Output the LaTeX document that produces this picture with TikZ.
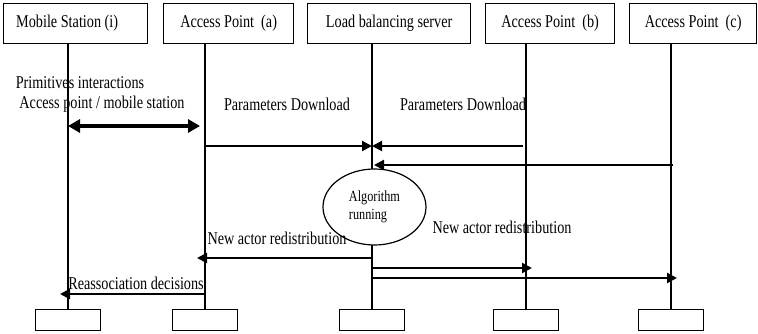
\documentclass[tikz,border=0pt]{standalone}
\usepackage{fontspec}
\setmainfont{Liberation Serif}[FakeStretch=0.79]
\usetikzlibrary{arrows.meta,shapes.geometric}
\begin{document}
\begin{tikzpicture}[x=1pt,y=-1pt,
  every node/.style={font=\fontsize{18}{21}\selectfont},
  hdr/.style={draw, line width=1.3pt, minimum height=40pt, inner sep=0pt, anchor=north west},
  foot/.style={draw, line width=1.3pt, minimum width=65pt, minimum height=21pt, inner sep=0pt, anchor=north},
  life/.style={line width=1.2pt},
  msg/.style={line width=2.2pt, -{Triangle[length=10pt,width=10pt]}},
  bimsg/.style={line width=4.5pt, {Triangle[length=12pt,width=13pt]}-{Triangle[length=12pt,width=13pt]}},
  lbl/.style={inner sep=0pt},
  algo/.style={draw, ellipse, fill=white, line width=1.2pt, minimum width=103pt, minimum height=76pt, inner sep=0pt, align=left, font=\fontsize{15.5}{18}\selectfont}]
\useasboundingbox (0,0) rectangle (758,334);
% headers
\node[hdr, minimum width=144pt] (ms) at (3,3) {Mobile Station (i)\hspace*{17pt}\mbox{}};
\node[hdr, minimum width=130pt] (apa) at (163,3) {Access Point\ \ (a)};
\node[hdr, minimum width=163pt] (lbs) at (307,3) {Load balancing server};
\node[hdr, minimum width=129pt] (apb) at (485,3) {Access Point\ \ (b)};
\node[hdr, minimum width=127pt] (apc) at (629,3) {Access Point\ \ (c)};
% footers
\node[foot] (fms) at (68,309) {};
\node[foot] (fapa) at (205,309) {};
\node[foot] (flbs) at (372,309) {};
\node[foot] (fapb) at (526,309) {};
\node[foot] (fapc) at (671,309) {};
% lifelines
\draw[life] (fms.north) -- (fms.north |- ms.south);
\draw[life] (fapa.north) -- (fapa.north |- apa.south);
\draw[life] (flbs.north) -- (flbs.north |- lbs.south);
\draw[life] (fapb.north) -- (fapb.north |- apb.south);
\draw[life] (fapc.north) -- (fapc.north |- apc.south);
% message end points
\coordinate (p1a) at (68,126);  \coordinate (p1b) at (200,126);
\coordinate (p2a) at (205,146); \coordinate (p2b) at (372,146);
\coordinate (p3a) at (523,146); \coordinate (p3b) at (372,146);
\coordinate (p4a) at (673,165); \coordinate (p4b) at (374,165);
\coordinate (p5a) at (372,258); \coordinate (p5b) at (197,258);
\coordinate (p6a) at (372,268); \coordinate (p6b) at (532,268);
\coordinate (p7a) at (372,278); \coordinate (p7b) at (677,278);
\coordinate (p8a) at (205,294); \coordinate (p8b) at (60,294);
% messages
\draw[bimsg] (p1a) -- (p1b);
\draw[msg] (p2a) -- (p2b);
\draw[msg] (p3a) -- (p3b);
\draw[msg] (p4a) -- (p4b);
\draw[msg] (p5a) -- (p5b);
\draw[msg] (p6a) -- (p6b);
\draw[msg] (p7a) -- (p7b);
\draw[msg] (p8a) -- (p8b);
% algorithm
\node[algo] (alg) at (374.5,207) {Algorithm\\running};
% labels
\node[lbl] (t1) at (80,83) {Primitives interactions};
\node[lbl] (t2) at (102,104) {Access point / mobile station};
\node[lbl] (t3) at (287,104) {Parameters Download};
\node[lbl] (t4) at (463,104) {Parameters Download};
\node[lbl] (t5) at (277,238) {New actor redistribution};
\node[lbl] (t6) at (502,227) {New actor redistribution};
\node[lbl] (t7) at (136,283) {Reassociation decisions};
\end{tikzpicture}
\end{document}
